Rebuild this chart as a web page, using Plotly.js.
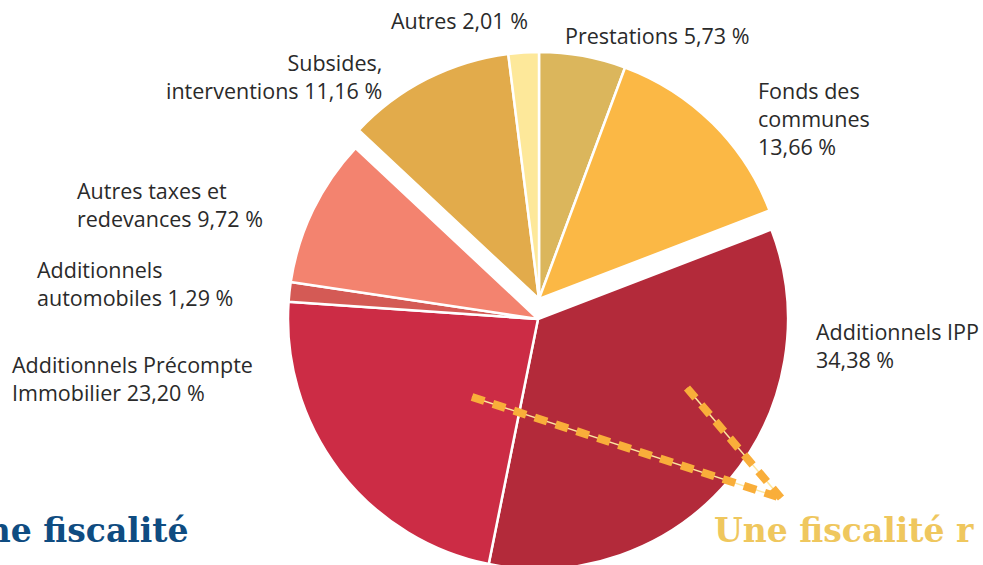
<!DOCTYPE html>
<html>
<head>
<meta charset="utf-8">
<script src="https://cdn.plot.ly/plotly-3.0.1.min.js"></script>
<style>
html, body { margin:0; padding:0; overflow:hidden; background:#ffffff; }
#chart { width:983px; height:640px; }
</style>
</head>
<body>
<div id="chart"></div>
<script>
// ---- Data ----
const categories = [
  "Prestations",
  "Fonds des communes",
  "Additionnels IPP",
  "Additionnels Précompte Immobilier",
  "Additionnels automobiles",
  "Autres taxes et redevances",
  "Subsides, interventions",
  "Autres"
];
const values = [5.73, 13.66, 34.38, 23.20, 1.29, 9.72, 11.16, 2.01];
const colors = ["#DBB65C", "#FBB845", "#B32A3A", "#CC2C45", "#D45A55", "#F3836F", "#E2AB4B", "#FDE89A"];
// which slices belong to the upper (shifted) group
const upperGroup = [true, true, false, false, false, false, true, true];
// label text lines (as printed)
const labelLines = [
  ["Prestations"],
  ["Fonds des", "communes"],
  ["Additionnels IPP"],
  ["Additionnels Précompte", "Immobilier"],
  ["Additionnels", "automobiles"],
  ["Autres taxes et", "redevances"],
  ["Subsides,", "interventions"],
  ["Autres"]
];
const labelOnNewLine = [false, true, true, false, false, false, false, false];

// ---- Layout helpers ----
const W = 983, H = 640;
const px = x => x / W;
const py = y => 1 - y / H;
const fmt = v => v.toFixed(2).replace(".", ",") + " %";
const clear = "rgba(0,0,0,0)";

function pieTrace(isUpper, cx, cy, r) {
  return {
    type: "pie",
    labels: categories,
    values: values,
    sort: false,
    direction: "clockwise",
    rotation: 0,
    textinfo: "none",
    hoverinfo: "label+percent",
    showlegend: false,
    marker: {
      colors: colors.map((c, i) => upperGroup[i] === isUpper ? c : clear),
      line: { color: colors.map((c, i) => upperGroup[i] === isUpper ? "#ffffff" : clear), width: 2.5 }
    },
    domain: { x: [px(cx - r), px(cx + r)], y: [py(cy + r), py(cy - r)] }
  };
}

const traces = [
  pieTrace(false, 538, 319, 250),
  pieTrace(true, 539, 299, 247)
];

// label placement [x, yTop, xanchor, align]
const labelPos = [
  [563, 19, "left", "left"],
  [756, 74, "left", "left"],
  [814, 315, "left", "left"],
  [10, 348, "left", "left"],
  [35, 253, "left", "left"],
  [75, 174, "left", "left"],
  [384, 46, "right", "right"],
  [530, 4, "right", "right"]
];

const textFont = { family: "'Open Sans', Lato, sans-serif", size: 21.5, color: "#2a2a2a" };

const annotations = categories.map((c, i) => {
  const lines = labelLines[i].slice();
  if (labelOnNewLine[i]) lines.push(fmt(values[i]));
  else lines[lines.length - 1] += " " + fmt(values[i]);
  const p = labelPos[i];
  return {
    xref: "paper", yref: "paper",
    x: px(p[0]), y: py(p[1]),
    xanchor: p[2], yanchor: "top", align: p[3],
    text: lines.join("<br>"),
    showarrow: false,
    font: textFont
  };
});

// cropped slide titles in background
annotations.push({
  xref: "paper", yref: "paper", x: px(191), y: py(530),
  xanchor: "right", yanchor: "middle", showarrow: false,
  text: "<b>Une fiscalité</b>",
  font: { family: "'DejaVu Serif', serif", size: 33, color: "#0F4C81" }
});
annotations.push({
  xref: "paper", yref: "paper", x: px(712), y: py(530),
  xanchor: "left", yanchor: "middle", showarrow: false,
  text: "<b>Une fiscalité r</b>",
  font: { family: "'DejaVu Serif', serif", size: 33, color: "#EFC75E" }
});

// decorative dashed path
const decoLines = [
  [472, 397, 781, 498],
  [687, 388, 781, 498]
];
const shapes = [];
decoLines.forEach(l => {
  shapes.push({ type: "line", xref: "paper", yref: "paper",
    x0: px(l[0]), y0: py(l[1]), x1: px(l[2]), y1: py(l[3]),
    line: { color: "#FDE7A0", width: 1.5 } });
  shapes.push({ type: "line", xref: "paper", yref: "paper",
    x0: px(l[0]), y0: py(l[1]), x1: px(l[2]), y1: py(l[3]),
    line: { color: "#F9AE3A", width: 8, dash: "13px,9px" } });
});

const layout = {
  width: W, height: H,
  margin: { l: 0, r: 0, t: 0, b: 0 },
  paper_bgcolor: "#ffffff",
  plot_bgcolor: "#ffffff",
  showlegend: false,
  annotations: annotations,
  shapes: shapes
};

Plotly.newPlot("chart", traces, layout, { displayModeBar: false, staticPlot: true });
</script>
</body>
</html>
